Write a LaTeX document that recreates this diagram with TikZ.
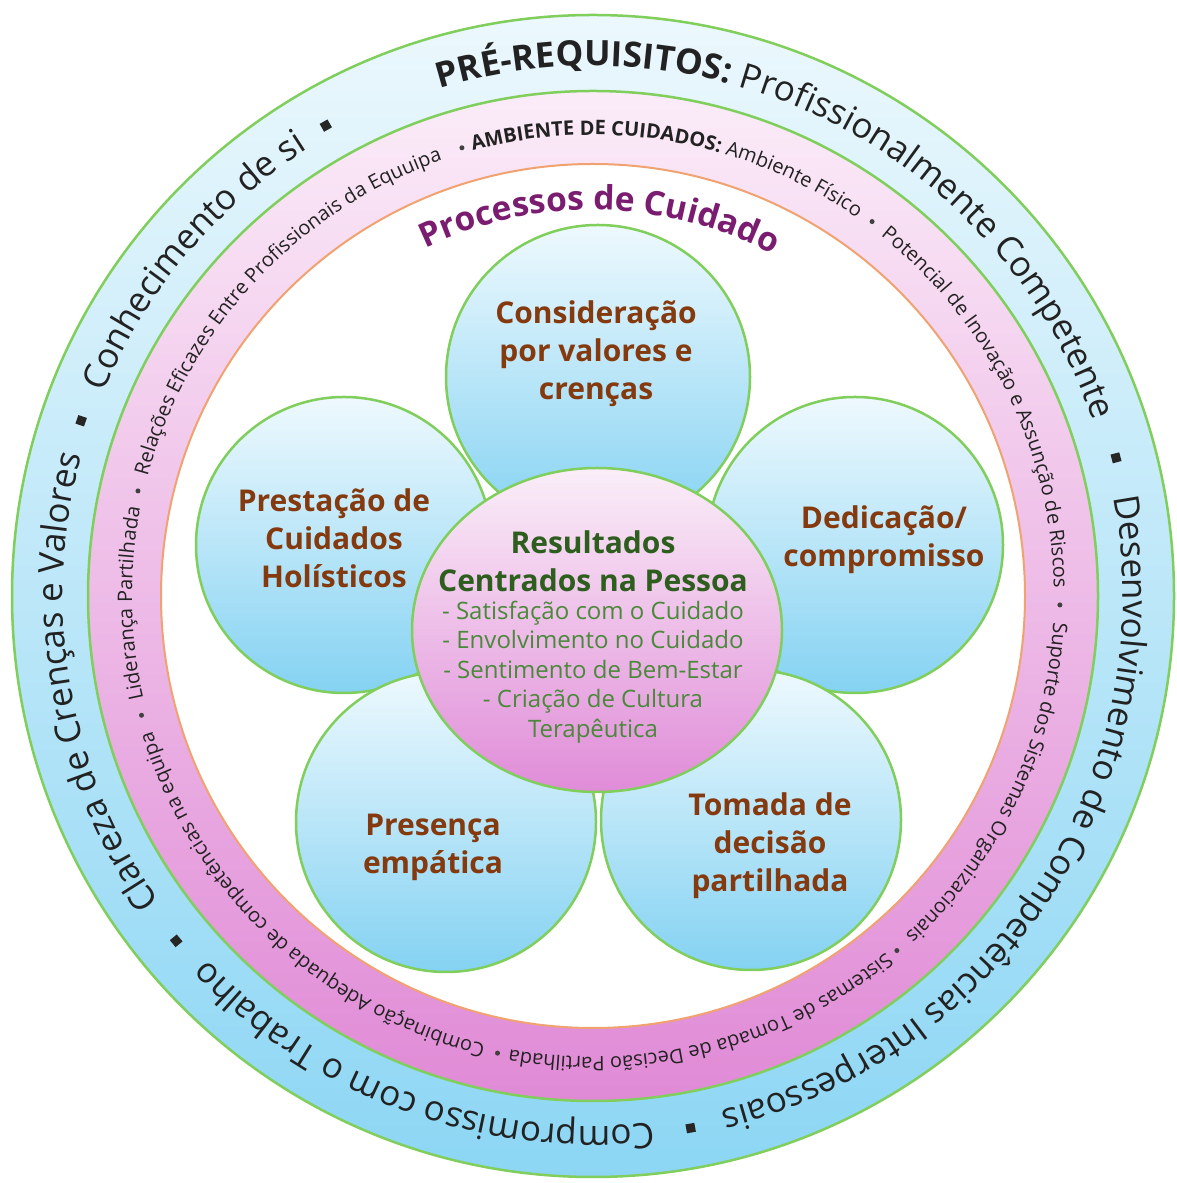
\documentclass[tikz,border=0pt]{standalone}
\usepackage{fontspec}
\setmainfont{Open Sans}
\usetikzlibrary{decorations.text}
\definecolor{ringgreen}{RGB}{128,206,92}
\definecolor{ringorange}{RGB}{240,162,112}
\definecolor{blueTop}{RGB}{236,248,253}
\definecolor{blueBot}{RGB}{140,214,244}
\definecolor{pinkTop}{RGB}{251,236,248}
\definecolor{pinkBot}{RGB}{224,138,214}
\definecolor{petalTop}{RGB}{238,249,254}
\definecolor{petalBot}{RGB}{132,210,242}
\definecolor{centerTop}{RGB}{250,238,248}
\definecolor{centerBot}{RGB}{224,140,216}
\definecolor{petalbrown}{RGB}{132,58,14}
\definecolor{headgreen}{RGB}{45,94,30}
\definecolor{itemgreen}{RGB}{74,136,58}
\definecolor{procpurple}{RGB}{122,28,112}
\definecolor{ringtextcol}{RGB}{34,34,34}
\newcommand\ringtext[4]{%
  \path[decorate, decoration={text along path, text align=center, text color=#3, text={#4}}]
    (#2+95:#1pt) arc[start angle=#2+95, end angle=#2-95, radius=#1pt];}
\newcommand\outerfont{\fontsize{35}{42}\selectfont}
\newcommand\pinkfont{\fontsize{20}{24}\selectfont}
\tikzset{
  petal/.style={top color=petalTop, bottom color=petalBot, draw=ringgreen, line width=2.5pt},
  petaltext/.style={align=center, text=petalbrown, font=\fontsize{30}{38}\selectfont\bfseries, inner sep=0pt},
  sqb/.style={shape=rectangle, fill=black!85, minimum size=9pt, inner sep=0pt, outer sep=0pt},
  pb/.style={shape=circle, fill=black!75, minimum size=5pt, inner sep=0pt, outer sep=0pt}
}
\begin{document}
\begin{tikzpicture}[x=1pt,y=1pt]
\useasboundingbox (0,0) rectangle (1176,1183);
\fill[white] (0,0) rectangle (1176,1183);
\begin{scope}[shift={(593,587)}]
  % rings
  \shade[top color=blueTop, bottom color=blueBot] (0,0) circle (581pt);
  \draw[ringgreen, line width=2.5pt] (0,0) circle (581pt);
  \shade[top color=pinkTop, bottom color=pinkBot] (0,0) circle (505pt);
  \draw[ringgreen, line width=2.5pt] (0,0) circle (505pt);
  \fill[white] (0,0) circle (432pt);
  \draw[ringorange, line width=2pt] (0,0) circle (432pt);
  % outer ring texts
  \ringtext{530}{63.05}{ringtextcol}{|\outerfont\bfseries|PRÉ-REQUISITOS:|\outerfont\mdseries| Profissionalmente Competente}
  \ringtext{530}{-32.7}{ringtextcol}{|\outerfont|Desenvolvimento de Competências Interpessoais}
  \ringtext{530}{-110.1}{ringtextcol}{|\outerfont|Compromisso com o Trabalho}
  \ringtext{530}{189.9}{ringtextcol}{|\outerfont|Clareza de Crenças e Valores}
  \ringtext{530}{140}{ringtextcol}{|\outerfont|Conhecimento de si}
  \node[sqb, rotate=14.8-90] (s1) at (14.8:541pt) {};
  \node[sqb, rotate=-79.6-90] (s2) at (-79.6:541pt) {};
  \node[sqb, rotate=219.6-90] (s3) at (219.6:541pt) {};
  \node[sqb, rotate=161.1-90] (s4) at (161.1:541pt) {};
  \node[sqb, rotate=119.6-90] (s5) at (119.6:541pt) {};
  % pink ring texts
  \ringtext{461}{80.1}{ringtextcol}{|\pinkfont\bfseries|AMBIENTE DE CUIDADOS:|\pinkfont\mdseries| Ambiente Físico}
  \ringtext{461}{26.2}{ringtextcol}{|\pinkfont|Potencial de Inovação e Assunção de Riscos}
  \ringtext{461}{-25.3}{ringtextcol}{|\pinkfont|Suporte dos Sistemas Organizacionais}
  \ringtext{461}{-75.5}{ringtextcol}{|\pinkfont|Sistemas de Tomada de Decisão Partilhada}
  \ringtext{461}{-133.2}{ringtextcol}{|\pinkfont|Combinação Adequada de competências na equipa}
  \ringtext{461}{-179.1}{ringtextcol}{|\pinkfont|Liderança Partilhada}
  \ringtext{461}{137}{ringtextcol}{|\pinkfont|Relações Eficazes Entre Profissionais da Equuipa}
  \node[pb] (p1) at (53.3:467pt) {};
  \node[pb] (p2) at (-1.1:467pt) {};
  \node[pb] (p3) at (-49.4:467pt) {};
  \node[pb] (p4) at (-101.8:467pt) {};
  \node[pb] (p5) at (-165.2:467pt) {};
  \node[pb] (p6) at (167:467pt) {};
  \node[pb] (p7) at (106.3:467pt) {};
  % title
  \ringtext{386}{89}{procpurple}{|\fontsize{33.5}{40}\selectfont\bfseries|Processos de Cuidado}
\end{scope}
% petals
\path[petal] (598,806) circle (152pt);
\path[petal] (855,638) circle (148pt);
\path[petal] (344,638) circle (148pt);
\path[petal] (446,361) circle (150pt);
\path[petal] (751,363) circle (150pt);
% center
\path[top color=centerTop, bottom color=centerBot, draw=ringgreen, line width=2.5pt]
  (597,553) ellipse [x radius=185pt, y radius=162pt];
% texts
\node[petaltext] (t1) at (596,829) {Consideração\\por valores e\\crenças};
\node[petaltext] (t2) at (334,645) {Prestação de\\Cuidados\\Holísticos};
\node[petaltext] (t3) at (884,643) {Dedicação/\\compromisso};
\node[petaltext] (t4) at (433,336) {Presença\\empática};
\node[petaltext] (t5) at (770,337) {Tomada de\\decisão\\partilhada};
\node[align=center, text=headgreen, font=\fontsize{30}{38}\selectfont\bfseries, inner sep=0pt] (c1) at (593,622) {Resultados\\Centrados na Pessoa};
\node[align=center, text=itemgreen, font=\fontsize{24}{29.5}\selectfont, inner sep=0pt] (c2) at (593,511) {- Satisfação com o Cuidado\\- Envolvimento no Cuidado\\- Sentimento de Bem-Estar\\- Criação de Cultura\\Terapêutica};
\end{tikzpicture}
\end{document}
